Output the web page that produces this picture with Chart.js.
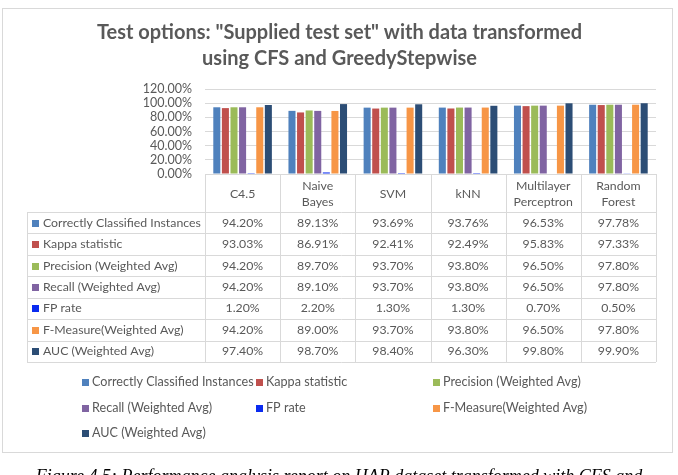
<!DOCTYPE html>
<html>
<head>
<meta charset="utf-8">
<title>Test options chart</title>
<script src="https://cdn.jsdelivr.net/npm/chart.js@4.4.1/dist/chart.umd.min.js"></script>
<style>
  html, body { margin: 0; padding: 0; background: #fff; overflow: hidden; }
  #wrap { position: relative; width: 678px; height: 475px; }
  #perfChart { position: absolute; left: 0; top: 0; }
  #caption {
    position: absolute; left: 0; top: 466px; width: 678px; text-align: center;
    font-family: "Liberation Serif", serif; font-style: italic; font-size: 18px;
    color: #000; white-space: nowrap;
  }
</style>
</head>
<body>
<div id="wrap">
  <canvas id="perfChart" width="678" height="475"></canvas>
  <div id="caption">Figure 4.5: Performance analysis report on HAR dataset transformed with CFS and</div>
</div>
<script>
// ------------------ DATA ------------------
const classifiers = [['C4.5'], ['Naive', 'Bayes'], ['SVM'], ['kNN'], ['Multilayer', 'Perceptron'], ['Random', 'Forest']];
const metricNames = [
    'Correctly Classified Instances',
    'Kappa statistic',
    'Precision (Weighted Avg)',
    'Recall (Weighted Avg)',
    'FP rate',
    'F-Measure(Weighted Avg)',
    'AUC (Weighted Avg)'
];
const correctlyClassified = [94.20, 89.13, 93.69, 93.76, 96.53, 97.78];
const kappaStatistic = [93.03, 86.91, 92.41, 92.49, 95.83, 97.33];
const precisionWeighted = [94.20, 89.70, 93.70, 93.80, 96.50, 97.80];
const recallWeighted = [94.20, 89.10, 93.70, 93.80, 96.50, 97.80];
const fpRate = [1.20, 2.20, 1.30, 1.30, 0.70, 0.50];
const fMeasureWeighted = [94.20, 89.00, 93.70, 93.80, 96.50, 97.80];
const aucWeighted = [97.40, 98.70, 98.40, 96.30, 99.80, 99.90];
const yTicks = [0, 20, 40, 60, 80, 100, 120];

const seriesValues = [correctlyClassified, kappaStatistic, precisionWeighted, recallWeighted, fpRate, fMeasureWeighted, aucWeighted];

// ------------------ STYLE ------------------
const colors = ['#4F81BD', '#C0504D', '#9BBB59', '#8064A2', '#0A2BF0', '#F79646', '#2C4D75'];
const FONT = 'Lato, "Noto Sans", sans-serif';
const TEXT = '#595959';
const GRID = '#d9d9d9';
const ROW_H = 21.43;
const HEAD_LINE = 16;
const TABLE_LEFT = 27;
const LEGEND_COLS = [82, 256, 433];
const LEGEND_ROWS = [382, 408, 433];

const fmt = v => v.toFixed(2) + '%';
const crisp = v => Math.round(v) + 0.5;

// frame + data table + legend, drawn around the chart area
const tablePlugin = {
    id: 'dataTable',
    beforeDraw(chart) {
        const ctx = chart.ctx;
        ctx.save();
        ctx.fillStyle = '#fff';
        ctx.fillRect(0, 0, chart.width, chart.height);
        ctx.strokeStyle = GRID;
        ctx.lineWidth = 1;
        ctx.strokeRect(2.5, 8.5, 670, 444);
        ctx.restore();
    },
    afterDraw(chart) {
        const ctx = chart.ctx;
        const area = chart.chartArea;
        const xs = chart.scales.x;
        const n = classifiers.length;
        const colW = (area.right - area.left) / n;
        const headTop = area.bottom;
        const headBottom = xs.bottom;
        const rows = metricNames.length;
        const tableBottom = headBottom + ROW_H * rows;

        ctx.save();
        ctx.strokeStyle = GRID;
        ctx.lineWidth = 1;
        ctx.beginPath();
        for (let i = 0; i <= rows; i++) {
            const y = crisp(headBottom + i * ROW_H);
            ctx.moveTo(TABLE_LEFT, y);
            ctx.lineTo(area.right, y);
        }
        for (let j = 0; j <= n; j++) {
            const x = crisp(area.left + j * colW);
            ctx.moveTo(x, headTop);
            ctx.lineTo(x, tableBottom);
        }
        ctx.moveTo(crisp(TABLE_LEFT), headBottom);
        ctx.lineTo(crisp(TABLE_LEFT), tableBottom);
        ctx.stroke();

        ctx.font = '12.3px ' + FONT;
        ctx.textBaseline = 'middle';
        ctx.fillStyle = TEXT;
        ctx.textAlign = 'center';

        // header cells (category labels), centred in the cell
        const headMid = (headTop + headBottom) / 2 + 1;
        classifiers.forEach((lines, j) => {
            const x = xs.getPixelForValue(j);
            const y0 = headMid - (lines.length - 1) * HEAD_LINE / 2;
            lines.forEach((t, k) => ctx.fillText(t, x, y0 + k * HEAD_LINE));
        });

        for (let i = 0; i < rows; i++) {
            const yc = headBottom + (i + 0.5) * ROW_H;
            ctx.fillStyle = colors[i];
            ctx.fillRect(TABLE_LEFT + 5, Math.round(yc) - 3, 7, 7);
            ctx.fillStyle = TEXT;
            ctx.textAlign = 'left';
            ctx.fillText(metricNames[i], TABLE_LEFT + 16, yc);
            ctx.textAlign = 'center';
            seriesValues[i].forEach((v, j) => {
                ctx.fillText(fmt(v), xs.getPixelForValue(j), yc);
            });
        }

        // legend, Excel-like grid of 3 columns
        ctx.font = '12.6px ' + FONT;
        ctx.textAlign = 'left';
        metricNames.forEach((name, i) => {
            const x = LEGEND_COLS[i % 3];
            const y = LEGEND_ROWS[Math.floor(i / 3)];
            ctx.fillStyle = colors[i];
            ctx.fillRect(x, y - 3, 7, 7);
            ctx.fillStyle = TEXT;
            ctx.fillText(name, x + 10, y);
        });
        ctx.restore();
    }
};

const ctx = document.getElementById('perfChart').getContext('2d');
new Chart(ctx, {
    type: 'bar',
    data: {
        labels: classifiers,
        datasets: metricNames.map((name, i) => ({
            label: name,
            data: seriesValues[i],
            backgroundColor: colors[i],
            borderWidth: 0,
            barPercentage: 0.82,
            categoryPercentage: 0.8
        }))
    },
    options: {
        responsive: false,
        devicePixelRatio: 1,
        animation: false,
        layout: { padding: { top: 0, left: 23, right: 22, bottom: 263 } },
        plugins: {
            legend: { display: false },
            tooltip: { enabled: false },
            title: {
                display: true,
                text: ['Test options: "Supplied test set" with data transformed', 'using CFS and GreedyStepwise'],
                color: TEXT,
                font: { family: FONT, size: 20, weight: 'bold', lineHeight: 26 / 20 },
                padding: { top: 20, bottom: 17 }
            }
        },
        scales: {
            y: {
                min: 0,
                max: 120,
                afterBuildTicks: (scale) => { scale.ticks = yTicks.map(v => ({ value: v })); },
                afterFit: (scale) => { scale.width = 182; },
                ticks: {
                    color: TEXT,
                    font: { family: FONT, size: 12.5 },
                    padding: 13,
                    autoSkip: false,
                    callback: (v) => fmt(v)
                },
                grid: { color: GRID, drawTicks: false },
                border: { display: false }
            },
            x: {
                afterFit: (scale) => { scale.height = 38; },
                ticks: { display: false },
                grid: { display: false, drawTicks: false },
                border: { display: true, color: GRID }
            }
        }
    },
    plugins: [tablePlugin]
});
</script>
</body>
</html>
